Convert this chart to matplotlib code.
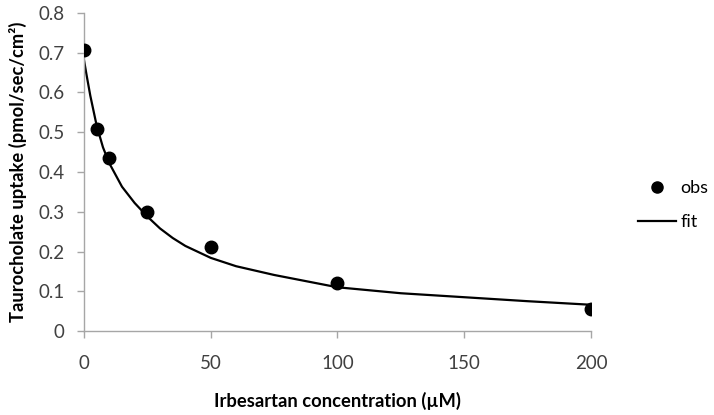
import matplotlib
matplotlib.use("Agg")
import matplotlib.pyplot as plt
from matplotlib.lines import Line2D

# Observed uptake vs irbesartan concentration
obs_conc = [0, 5, 10, 25, 50, 100, 200]
obs_uptake = [0.708, 0.508, 0.434, 0.299, 0.212, 0.120, 0.055]

# Fitted curve
fit_conc = [0, 1, 2.5, 5, 7.5, 10, 15, 20, 25, 30, 35, 40, 50, 60, 75, 100, 125, 150, 175, 200]
fit_uptake = [0.682, 0.645, 0.592, 0.517, 0.462, 0.422, 0.363, 0.322, 0.288, 0.258, 0.234, 0.214,
              0.184, 0.163, 0.141, 0.110, 0.095, 0.085, 0.075, 0.066]

x_ticks = [0, 50, 100, 150, 200]
y_ticks = [0, 0.1, 0.2, 0.3, 0.4, 0.5, 0.6, 0.7, 0.8]

plt.rcParams['font.family'] = ['Lato', 'DejaVu Sans']

fig = plt.figure(figsize=(7.14, 4.15), dpi=100)
ax = fig.add_axes([0.1176, 0.2024, 0.7101, 0.7663])

ax.plot(fit_conc, fit_uptake, color='black', linewidth=1.6, zorder=2)
ax.plot(obs_conc, obs_uptake, 'o', color='black', markersize=9, zorder=3)

ax.set_xlim(0, 200)
ax.set_ylim(0, 0.8)
ax.set_xticks(x_ticks)
ax.set_yticks(y_ticks)
ax.set_xticklabels([str(t) for t in x_ticks])
ax.set_yticklabels(['0' if t == 0 else f'{t:.1f}' for t in y_ticks])

for side in ['top', 'right']:
    ax.spines[side].set_visible(False)
for side in ['left', 'bottom']:
    ax.spines[side].set_color('#a6a6a6')
    ax.spines[side].set_linewidth(1.0)
ax.tick_params(axis='both', colors='#a6a6a6', labelcolor='#404040', labelsize=13.5,
               length=5, width=1.0, direction='out')
ax.tick_params(axis='x', pad=12)
ax.tick_params(axis='y', pad=9)

ax.set_xlabel('Irbesartan concentration (\u00b5M)', fontsize=13.2, fontweight='bold')
ax.set_ylabel('Taurocholate uptake (pmol/sec/cm\u00b2)', fontsize=13.2, fontweight='bold')
ax.xaxis.set_label_coords(0.5, -0.19)
ax.yaxis.set_label_coords(-0.113, 0.5)

handles = [Line2D([], [], marker='o', linestyle='none', color='black', markersize=8),
           Line2D([], [], color='black', linewidth=1.6)]
fig.legend(handles, ['obs', 'fit'], loc='center left', bbox_to_anchor=(0.871, 0.505),
           frameon=False, fontsize=13, handlelength=2.1, handletextpad=0.25, labelspacing=1.0)

fig.savefig('out.png', dpi=100)
